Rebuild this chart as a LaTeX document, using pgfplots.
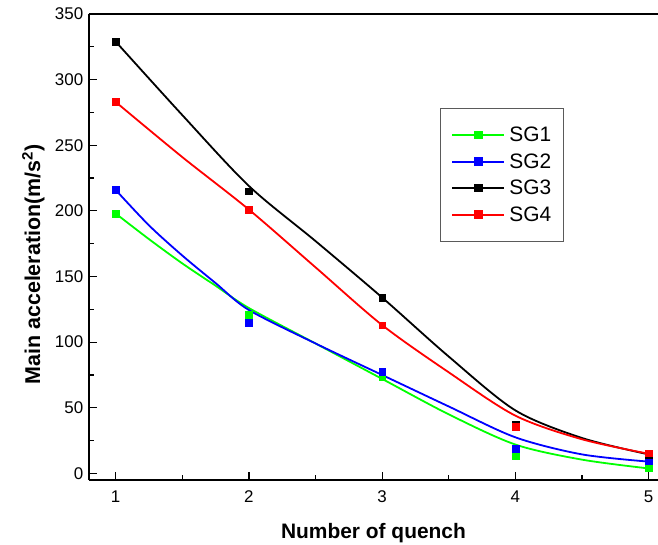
\documentclass[border=0pt]{standalone}
\usepackage{fontspec}
\setmainfont{Liberation Sans}
\usepackage{pgfplots}
\pgfplotsset{compat=1.18}

\definecolor{sgA}{RGB}{0,255,0}
\definecolor{sgB}{RGB}{0,0,255}
\definecolor{sgC}{RGB}{0,0,0}
\definecolor{sgD}{RGB}{255,0,0}
\definecolor{frame}{RGB}{90,90,90}

\begin{document}
\begin{tikzpicture}
\begin{axis}[
    at={(0,0)}, anchor=south west,
    width=569bp, height=466bp, scale only axis,
    xmin=0.8, xmax=5.07, ymin=-5, ymax=350,
    axis x line*=box, axis y line*=left,
    x axis line style={-}, y axis line style={-},
    axis line style={line width=1.6bp, black},
    xtick={1,2,3,4,5}, ytick={0,50,...,350},
    minor tick num=1,
    xtick pos=bottom, ytick pos=left,
    major tick length=8bp, minor tick length=5bp,
    tick style={line width=1.2bp, black},
    /pgf/number format/assume math mode=true,
    tick label style={font=\fontsize{17}{20}\selectfont},
    xticklabel style={yshift=-7bp},
    yticklabel style={xshift=-2.3bp},
    xlabel={\textbf{Number of quench}},
    ylabel={\textbf{Main acceleration(m/s\textsuperscript{2})}},
    every axis x label/.style={at={(axis description cs:0.5,-0.1266)}, anchor=base, font=\fontsize{21}{24}\selectfont},
    every axis y label/.style={at={(axis description cs:-0.0861,0.4625)}, rotate=90, anchor=base, font=\fontsize{21.5}{24}\selectfont},
    legend image code/.code={\draw[mark repeat=2,mark phase=2,#1] plot coordinates {(0bp,0bp) (26bp,0bp) (52bp,0bp)};},
    legend cell align=left,
    legend style={at={(0.617,0.798)}, anchor=north west, draw=frame, line width=1bp,
        font=\fontsize{21}{24}\selectfont, inner xsep=11bp, inner ysep=17bp,
        row sep=7.5bp, column sep=3bp,
        nodes={inner sep=1bp, text height=15bp, text depth=2bp}},
]
% fitted curves
\addplot[sgA, line width=1.8bp, smooth, forget plot] coordinates {
  (1,198) (1.25,178.5) (1.5,160) (1.75,143) (2,126) (2.5,99) (3,72) (3.5,45) (4,22) (4.5,10.5) (5,3.8)};
\addplot[sgB, line width=1.8bp, smooth, forget plot] coordinates {
  (1,216) (1.25,189) (1.5,166) (1.75,145) (2,124.5) (2.5,99) (3,75) (3.5,51) (4,27.5) (4.5,14.5) (5,9)};
\addplot[sgC, line width=1.8bp, smooth, forget plot] coordinates {
  (1,329) (1.5,273) (2,219) (2.5,177) (3,134) (3.5,89) (4,48) (4.5,27) (5,14.5)};
\addplot[sgD, line width=1.8bp, smooth, forget plot] coordinates {
  (1,283) (1.5,241) (2,201) (2.5,157) (3,113) (3.5,77) (4,44) (4.5,26) (5,15)};
% measured points
\addplot[only marks, mark=square*, mark size=3.3bp, sgA, forget plot] coordinates {
  (1,198) (2,121) (3,73.5) (4,13) (5,4)};
\addplot[only marks, mark=square*, mark size=3.3bp, sgB, forget plot] coordinates {
  (1,216) (2,115) (3,77.5) (4,19) (5,9.5)};
\addplot[only marks, mark=square*, mark size=3.3bp, sgC, forget plot] coordinates {
  (1,329) (2,215) (3,134) (4,37) (5,14)};
\addplot[only marks, mark=square*, mark size=3.3bp, sgD, forget plot] coordinates {
  (1,283) (2,201) (3,113) (4,35.5) (5,15.5)};
\addlegendimage{sgA, line width=1.8bp, mark=square*, mark size=3.3bp}
\addlegendentry{SG1}
\addlegendimage{sgB, line width=1.8bp, mark=square*, mark size=3.3bp}
\addlegendentry{SG2}
\addlegendimage{sgC, line width=1.8bp, mark=square*, mark size=3.3bp}
\addlegendentry{SG3}
\addlegendimage{sgD, line width=1.8bp, mark=square*, mark size=3.3bp}
\addlegendentry{SG4}
\end{axis}
\pgfresetboundingbox
\path[use as bounding box] (-89bp,-65bp) rectangle (569bp,480bp);
\end{tikzpicture}
\end{document}
